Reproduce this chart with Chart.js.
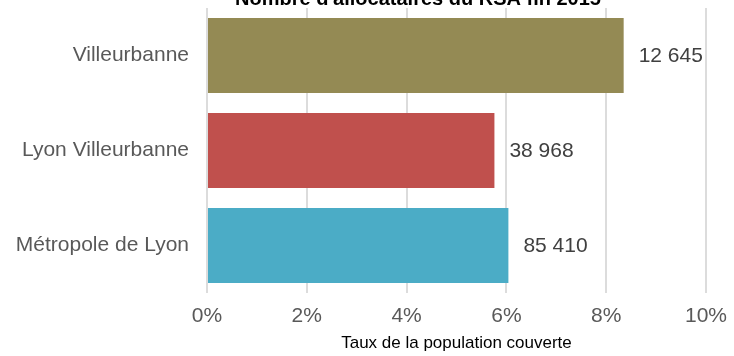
<!DOCTYPE html>
<html lang="fr">
<head>
<meta charset="utf-8">
<script src="https://cdn.jsdelivr.net/npm/chart.js@4.4.1/dist/chart.umd.min.js"></script>
<style>
  html, body { margin: 0; padding: 0; background: #fff; overflow: hidden; }
  #wrap { position: relative; width: 734px; height: 356px; }
</style>
</head>
<body>
<div id="wrap"><canvas id="rsaChart" width="734" height="356"></canvas></div>
<script>
const titre = "Nombre d'allocataires du RSA fin 2015";
const territoires = ['Villeurbanne', 'Lyon Villeurbanne', 'Métropole de Lyon'];
const tauxCouverture = [8.35, 5.76, 6.04];   // % de la population couverte
const allocataires = [12645, 38968, 85410];
const axeX = { min: 0, max: 10, pas: 2 };

const FONT = '"Liberation Sans", Arial, sans-serif';

function formatMilliers(n) {
    return String(n).replace(/\B(?=(\d{3})+(?!\d))/g, ' ');
}

// title sits above the plot, partly cut by the top edge
const titrePlugin = {
    id: 'titreHaut',
    afterDraw(chart) {
        const ctx = chart.ctx;
        ctx.save();
        ctx.font = 'bold 20px ' + FONT;
        ctx.fillStyle = '#000';
        ctx.textAlign = 'center';
        ctx.textBaseline = 'alphabetic';
        ctx.fillText(titre, 418, 5);
        ctx.restore();
    }
};

// number of recipients written to the right of each bar
const etiquettesPlugin = {
    id: 'etiquettes',
    afterDatasetsDraw(chart) {
        const ctx = chart.ctx;
        const meta = chart.getDatasetMeta(0);
        ctx.save();
        ctx.font = '21px ' + FONT;
        ctx.fillStyle = '#404040';
        ctx.textAlign = 'left';
        ctx.textBaseline = 'middle';
        meta.data.forEach((bar, i) => {
            ctx.fillText(formatMilliers(allocataires[i]), bar.x + 15, bar.y + 1);
        });
        ctx.restore();
    }
};

new Chart(document.getElementById('rsaChart'), {
    type: 'bar',
    data: {
        labels: territoires,
        datasets: [{
            data: tauxCouverture,
            backgroundColor: ['#948A54', '#C0504D', '#4BACC6'],
            borderWidth: 0,
            barPercentage: 0.79,
            categoryPercentage: 1
        }]
    },
    options: {
        indexAxis: 'y',
        responsive: false,
        animation: false,
        layout: { padding: { top: 8, right: 28, bottom: 0, left: 0 } },
        plugins: {
            legend: { display: false },
            title: { display: false },
            tooltip: { enabled: false }
        },
        scales: {
            x: {
                min: axeX.min,
                max: axeX.max,
                afterFit(scale) {
                    scale.height = 63;
                    scale.paddingLeft = 0;
                    scale.paddingRight = 0;
                },
                grid: { color: '#dcdcdc', lineWidth: 2, drawTicks: false },
                border: { display: false },
                ticks: {
                    stepSize: axeX.pas,
                    padding: 11,
                    color: '#595959',
                    font: { family: FONT, size: 21 },
                    callback: v => v + '%'
                },
                title: {
                    display: true,
                    text: 'Taux de la population couverte',
                    color: '#000',
                    font: { family: FONT, size: 17 },
                    padding: { top: 0, bottom: 2 }
                }
            },
            y: {
                afterFit(scale) {
                    scale.width = 207;
                    scale.paddingTop = 0;
                    scale.paddingBottom = 0;
                },
                grid: { display: false, drawTicks: false },
                border: { display: false },
                ticks: {
                    padding: 18,
                    color: '#595959',
                    font: { family: FONT, size: 21 }
                }
            }
        }
    },
    plugins: [titrePlugin, etiquettesPlugin]
});
</script>
</body>
</html>
